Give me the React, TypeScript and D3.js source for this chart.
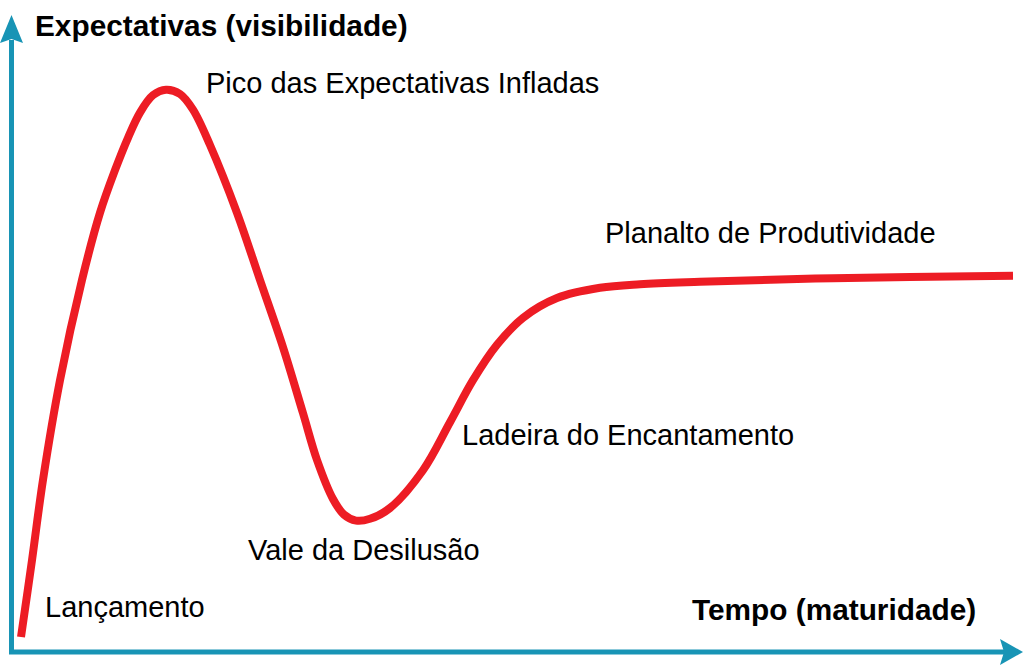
import React, { useEffect, useRef } from 'react'
import * as d3 from 'd3'

// Hype cycle curve (time 0..100, expectations 0..100)
const time = [
  0.9, 2.0, 3.1, 4.8, 7.0, 8.8, 10.3, 11.6, 12.8, 14.1, 15.4, 16.8, 18.1, 19.8,
  22.5, 24.8, 27.1, 29.1, 30.5, 32.1, 33.2, 34.4, 35.8, 37.8, 41.1, 43.8, 46.1,
  48.5, 51.1, 54.5, 58.8, 62.8, 68.8, 82.1, 100.1
]
const expectations = [
  2.5, 15.3, 28.7, 45.3, 62.0, 73.2, 80.3, 85.7, 89.9, 92.8, 93.7, 93.0, 90.4,
  84.5, 73.2, 62.0, 50.8, 39.8, 32.0, 25.5, 22.9, 21.9, 22.2, 24.0, 30.3, 38.3,
  45.3, 51.2, 55.7, 59.0, 60.7, 61.3, 61.7, 62.3, 62.7
]

const phases = [
  'Lançamento',
  'Pico das Expectativas Infladas',
  'Vale da Desilusão',
  'Ladeira do Encantamento',
  'Planalto de Produtividade'
]
const yTitle = 'Expectativas (visibilidade)'
const xTitle = 'Tempo (maturidade)'

const W = 1024
const H = 665
const AXIS = '#1894b5'
const RED = '#ed1c24'
const FONT = '"Liberation Sans", Arial, sans-serif'

// where each phase label sits (pixel positions of the text baseline start)
const phasePos: [number, number][] = [
  [45, 617],
  [206, 93],
  [248, 560],
  [462, 445],
  [605, 243]
]

const App: React.FC = () => {
  const svgRef = useRef<SVGSVGElement | null>(null)

  useEffect(() => {
    if (!svgRef.current) return
    const svg = d3.select(svgRef.current)
    svg.selectAll('*').remove()

    const x = d3.scaleLinear().domain([0, 100]).range([12, 1012])
    const y = d3.scaleLinear().domain([0, 100]).range([652, 52])

    // axes with arrow heads
    const axis = svg.append('g')
    axis
      .append('line')
      .attr('x1', 11.5)
      .attr('x2', 11.5)
      .attr('y1', 654)
      .attr('y2', 40)
      .attr('stroke', AXIS)
      .attr('stroke-width', 5)
    axis
      .append('line')
      .attr('x1', 9)
      .attr('x2', 1004)
      .attr('y1', 652)
      .attr('y2', 652)
      .attr('stroke', AXIS)
      .attr('stroke-width', 5)
    axis
      .append('path')
      .attr('d', 'M11.5,15 L23,43 L11.5,39 L0,43 Z')
      .attr('fill', AXIS)
    axis
      .append('path')
      .attr('d', 'M1023,652 L1000,639 L1004,652 L1000,665 Z')
      .attr('fill', AXIS)

    // the curve
    const pts = time.map((t, i) => [t, expectations[i]] as [number, number])
    const line = d3
      .line<[number, number]>()
      .x((d) => x(d[0]))
      .y((d) => y(d[1]))
      .curve(d3.curveCatmullRom.alpha(0.5))

    svg
      .append('path')
      .datum(pts)
      .attr('d', line)
      .attr('fill', 'none')
      .attr('stroke', RED)
      .attr('stroke-width', 8)
      .attr('stroke-linejoin', 'round')

    // axis titles
    svg
      .append('text')
      .attr('x', 35)
      .attr('y', 36)
      .attr('font-family', FONT)
      .attr('font-weight', 'bold')
      .attr('font-size', 29.8)
      .attr('fill', '#000')
      .text(yTitle)
    svg
      .append('text')
      .attr('x', 692)
      .attr('y', 620)
      .attr('font-family', FONT)
      .attr('font-weight', 'bold')
      .attr('font-size', 29.8)
      .attr('fill', '#000')
      .text(xTitle)

    // phase labels
    svg
      .append('g')
      .selectAll('text')
      .data(phases)
      .join('text')
      .attr('x', (_, i) => phasePos[i][0])
      .attr('y', (_, i) => phasePos[i][1])
      .attr('font-family', FONT)
      .attr('font-size', 29)
      .attr('fill', '#000')
      .text((d) => d)
  }, [])

  return (
    <div style={{ position: 'absolute', left: 0, top: 0, width: W, height: H, background: '#fff' }}>
      <svg ref={svgRef} width={W} height={H} style={{ display: 'block' }}></svg>
    </div>
  )
}

export default App
